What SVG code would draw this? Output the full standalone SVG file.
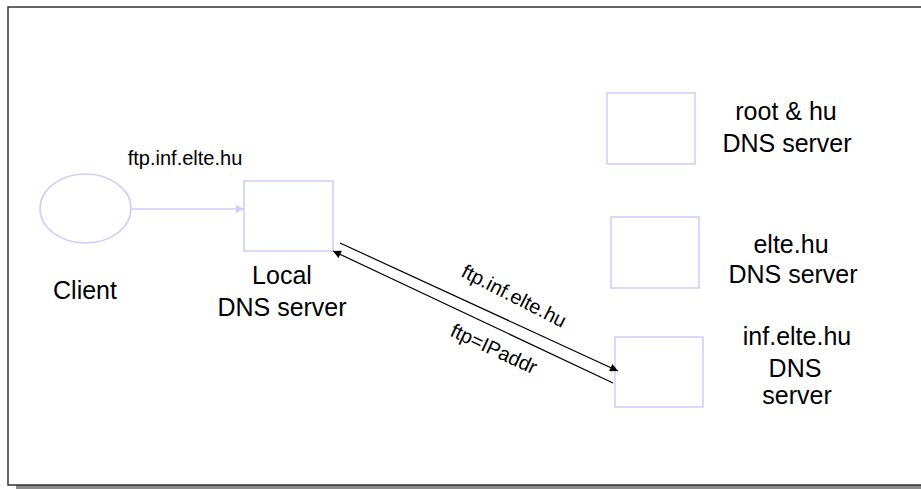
<svg xmlns="http://www.w3.org/2000/svg" width="921" height="489" viewBox="0 0 921 489">
<style>
.node{fill:none;stroke:#ccccff;stroke-width:1.5}
.lbl{font-family:"Liberation Sans",Arial,sans-serif;font-size:25px;fill:#000;text-anchor:middle}
.sm{font-family:"Liberation Sans",Arial,sans-serif;font-size:20px;fill:#000;text-anchor:middle}
.blk{stroke:#000;stroke-width:1.2;fill:none}
</style>
<defs>
<marker id="ah" viewBox="0 0 10 10" refX="10" refY="5" markerWidth="10" markerHeight="8" markerUnits="userSpaceOnUse" orient="auto"><path d="M0,0 L10,5 L0,10 z" fill="#000"/></marker>
<marker id="ahl" viewBox="0 0 10 10" refX="10" refY="5" markerWidth="10" markerHeight="8" markerUnits="userSpaceOnUse" orient="auto"><path d="M0,0 L10,5 L0,10 z" fill="#ccccff"/></marker>
</defs>
<rect x="0" y="0" width="921" height="489" fill="#fff"/>
<rect x="16" y="15" width="960" height="474" fill="#8a8a8a"/>
<rect x="8" y="7" width="960" height="478" fill="#fff" stroke="#333" stroke-width="1.5"/>
<g id="client">
<ellipse class="node" cx="85.5" cy="208.5" rx="45.5" ry="34.5"/>
<text class="lbl" x="85" y="299">Client</text>
</g>
<g id="local">
<rect class="node" x="244" y="181" width="89" height="70"/>
<text class="lbl" x="282" y="284">Local</text>
<text class="lbl" x="282" y="316">DNS server</text>
</g>
<g id="root">
<rect class="node" x="607" y="93" width="88" height="71"/>
<text class="lbl" x="786" y="120">root &amp; hu</text>
<text class="lbl" x="787" y="152">DNS server</text>
</g>
<g id="elte">
<rect class="node" x="611" y="217" width="88" height="71"/>
<text class="lbl" x="791" y="253">elte.hu</text>
<text class="lbl" x="793" y="283">DNS server</text>
</g>
<g id="inf">
<rect class="node" x="615" y="337" width="88" height="70"/>
<text class="lbl" x="797" y="345">inf.elte.hu</text>
<text class="lbl" x="795" y="377">DNS</text>
<text class="lbl" x="797" y="404">server</text>
</g>
<g id="connectors">
<line x1="131" y1="209" x2="244" y2="209" stroke="#ccccff" stroke-width="1.5" marker-end="url(#ahl)"/>
<text class="sm" x="185" y="165">ftp.inf.elte.hu</text>
<line class="blk" x1="340" y1="243" x2="618" y2="371" marker-end="url(#ah)"/>
<line class="blk" x1="613" y1="383" x2="333" y2="251" marker-end="url(#ah)"/>
<text class="sm" transform="translate(511,302) rotate(27)">ftp.inf.elte.hu</text>
<text class="sm" transform="translate(491,355) rotate(25)">ftp=IPaddr</text>
</g>
</svg>
